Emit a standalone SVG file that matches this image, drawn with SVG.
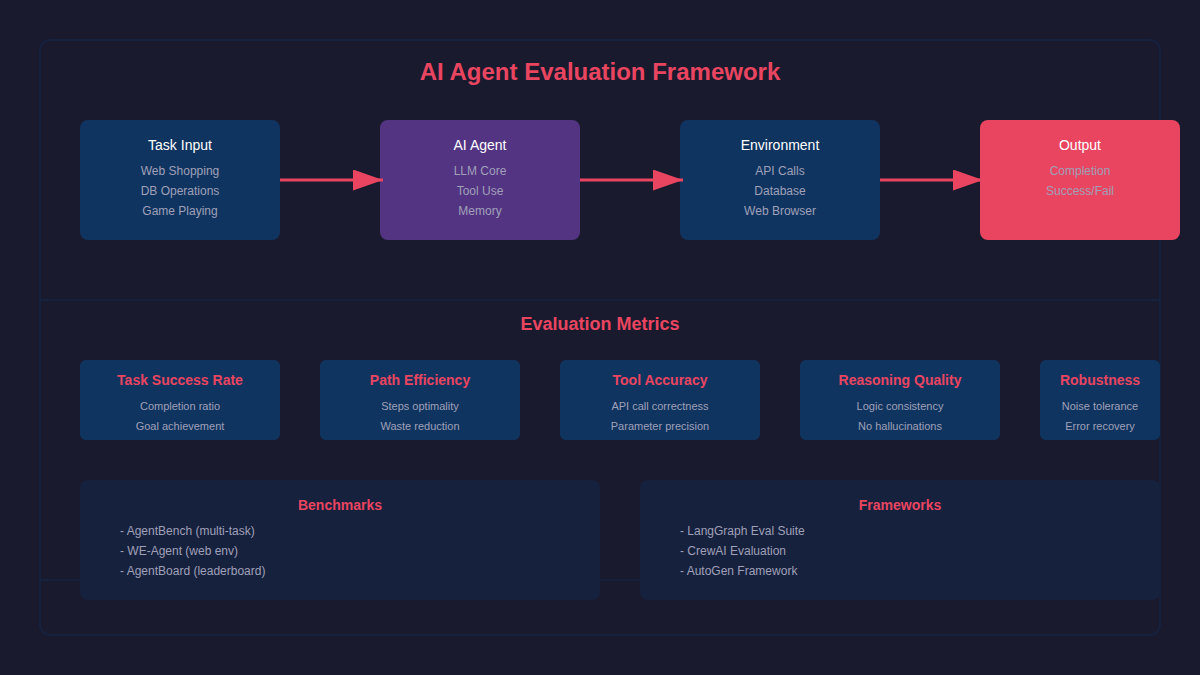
<svg xmlns="http://www.w3.org/2000/svg" width="1200" height="675" viewBox="0 0 1200 675">
<defs>
<marker id="ah" markerWidth="10" markerHeight="7" refX="10" refY="3.5" orient="auto" markerUnits="strokeWidth"><polygon points="0 0, 10 3.5, 0 7" fill="#e94560"/></marker>
<style>
text{font-family:"Liberation Sans",Arial,sans-serif;text-anchor:middle}
.frame{fill:none;stroke:#16213e;stroke-width:2}
.title{font-size:24px;font-weight:bold;fill:#e94560}
.h{font-size:14px;fill:#ffffff}
.s{font-size:12px;fill:#a0a0b8}
.sec{font-size:18px;font-weight:bold;fill:#e94560}
.mh{font-size:14px;font-weight:bold;fill:#e94560}
.ms{font-size:11px;fill:#a0a0b8}
.li{font-size:12px;fill:#a0a0b8;text-anchor:start}
.conn{stroke:#e94560;stroke-width:3;fill:none;marker-end:url(#ah)}
</style>
</defs>
<rect width="1200" height="675" fill="#1a1a2e"/>
<rect class="frame" x="40" y="40" width="1120" height="595" rx="10"/>
<rect class="frame" x="40" y="300" width="1120" height="280" rx="0"/>
<text class="title" x="600" y="80">AI Agent Evaluation Framework</text>
<g id="task-input"><rect x="80" y="120" width="200" height="120" rx="8" fill="#0f3460"/><text class="h" x="180" y="150">Task Input</text><text class="s" x="180" y="175">Web Shopping</text><text class="s" x="180" y="195">DB Operations</text><text class="s" x="180" y="215">Game Playing</text></g>
<g id="ai-agent"><rect x="380" y="120" width="200" height="120" rx="8" fill="#533483"/><text class="h" x="480" y="150">AI Agent</text><text class="s" x="480" y="175">LLM Core</text><text class="s" x="480" y="195">Tool Use</text><text class="s" x="480" y="215">Memory</text></g>
<g id="environment"><rect x="680" y="120" width="200" height="120" rx="8" fill="#0f3460"/><text class="h" x="780" y="150">Environment</text><text class="s" x="780" y="175">API Calls</text><text class="s" x="780" y="195">Database</text><text class="s" x="780" y="215">Web Browser</text></g>
<g id="output"><rect x="980" y="120" width="200" height="120" rx="8" fill="#e94560"/><text class="h" x="1080" y="150">Output</text><text class="s" x="1080" y="175">Completion</text><text class="s" x="1080" y="195">Success/Fail</text></g>
<g id="connectors">
<line class="conn" x1="280" y1="180" x2="383" y2="180"/>
<line class="conn" x1="580" y1="180" x2="683" y2="180"/>
<line class="conn" x1="880" y1="180" x2="983" y2="180"/>
</g>
<text class="sec" x="600" y="330">Evaluation Metrics</text>
<g id="m-success"><rect x="80" y="360" width="200" height="80" rx="6" fill="#0f3460"/><text class="mh" x="180" y="385">Task Success Rate</text><text class="ms" x="180" y="410">Completion ratio</text><text class="ms" x="180" y="430">Goal achievement</text></g>
<g id="m-path"><rect x="320" y="360" width="200" height="80" rx="6" fill="#0f3460"/><text class="mh" x="420" y="385">Path Efficiency</text><text class="ms" x="420" y="410">Steps optimality</text><text class="ms" x="420" y="430">Waste reduction</text></g>
<g id="m-tool"><rect x="560" y="360" width="200" height="80" rx="6" fill="#0f3460"/><text class="mh" x="660" y="385">Tool Accuracy</text><text class="ms" x="660" y="410">API call correctness</text><text class="ms" x="660" y="430">Parameter precision</text></g>
<g id="m-reason"><rect x="800" y="360" width="200" height="80" rx="6" fill="#0f3460"/><text class="mh" x="900" y="385">Reasoning Quality</text><text class="ms" x="900" y="410">Logic consistency</text><text class="ms" x="900" y="430">No hallucinations</text></g>
<g id="m-robust"><rect x="1040" y="360" width="120" height="80" rx="6" fill="#0f3460"/><text class="mh" x="1100" y="385">Robustness</text><text class="ms" x="1100" y="410">Noise tolerance</text><text class="ms" x="1100" y="430">Error recovery</text></g>
<g id="benchmarks"><rect x="80" y="480" width="520" height="120" rx="8" fill="#16213e"/><text class="mh" x="340" y="510">Benchmarks</text><text class="li" x="120" y="535">- AgentBench (multi-task)</text><text class="li" x="120" y="555">- WE-Agent (web env)</text><text class="li" x="120" y="575">- AgentBoard (leaderboard)</text></g>
<g id="frameworks"><rect x="640" y="480" width="520" height="120" rx="8" fill="#16213e"/><text class="mh" x="900" y="510">Frameworks</text><text class="li" x="680" y="535">- LangGraph Eval Suite</text><text class="li" x="680" y="555">- CrewAI Evaluation</text><text class="li" x="680" y="575">- AutoGen Framework</text></g>
</svg>
